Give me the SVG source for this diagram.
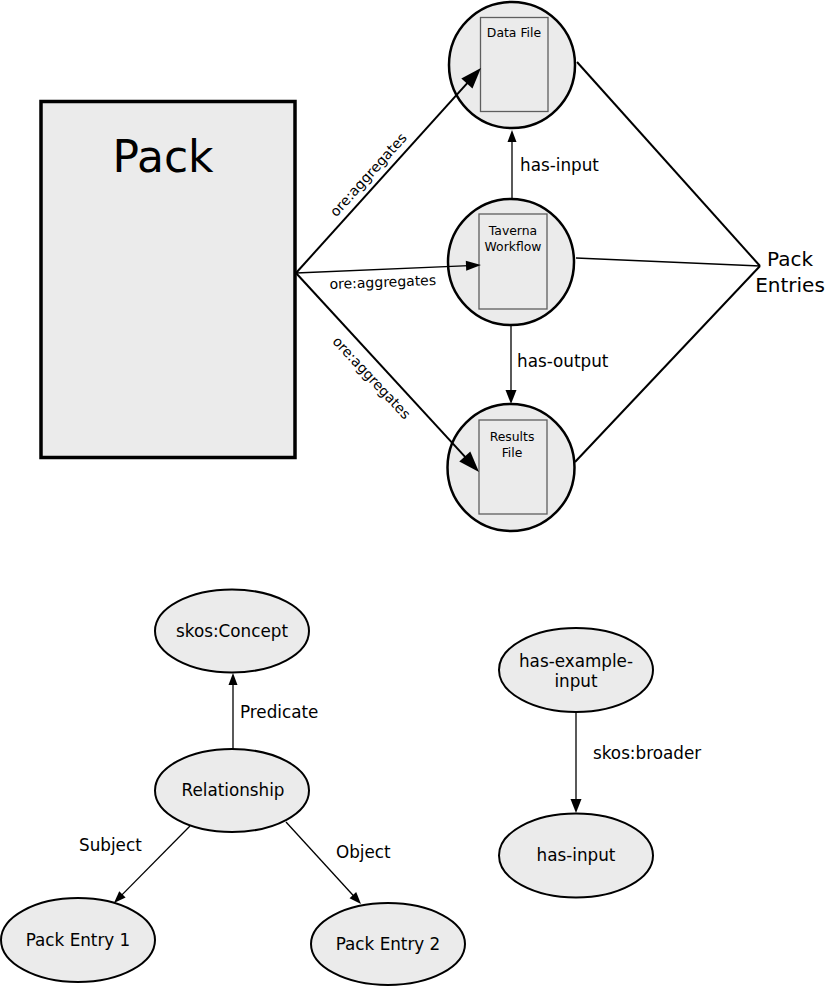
<svg xmlns="http://www.w3.org/2000/svg" width="826" height="987" viewBox="0 0 826 987">
<style>
text{font-family:"DejaVu Sans","Liberation Sans",sans-serif;fill:#000}
.pack{fill:#ebebeb;stroke:#000;stroke-width:3.5}
.circ{fill:#ebebeb;stroke:#000;stroke-width:2.5}
.doc{fill:#ebebeb;stroke:#5e5e5e;stroke-width:1.3}
.ell{fill:#ebebeb;stroke:#000;stroke-width:2}
.ln{fill:none;stroke:#000;stroke-width:2}
.thin{fill:none;stroke:#000;stroke-width:1.3}
.lbl{font-size:16.8px}
.small{font-size:12.4px;text-anchor:middle}
.agg{font-size:14px;text-anchor:middle}
.c{text-anchor:middle}
</style>
<defs>
<marker id="big" markerUnits="userSpaceOnUse" orient="auto" refX="0" refY="0" markerWidth="30" markerHeight="20" overflow="visible">
<path d="M8,0 L-13,-7.5 L-13,7.5 Z" fill="#000"/>
</marker>
<marker id="mid" markerUnits="userSpaceOnUse" orient="auto" refX="0" refY="0" markerWidth="20" markerHeight="14" overflow="visible">
<path d="M6,0 L-9,-5 L-9,5 Z" fill="#000"/>
</marker>
<marker id="sm" markerUnits="userSpaceOnUse" orient="auto" refX="0" refY="0" markerWidth="16" markerHeight="12" overflow="visible">
<path d="M5,0 L-7,-4.5 L-7,4.5 Z" fill="#000"/>
</marker>
<marker id="md2" markerUnits="userSpaceOnUse" orient="auto" refX="0" refY="0" markerWidth="20" markerHeight="14" overflow="visible">
<path d="M6,0 L-8,-5.5 L-8,5.5 Z" fill="#000"/>
</marker>
</defs>

<g id="pack">
<rect class="pack" x="41" y="101.5" width="254" height="356"/>
<text x="163" y="172" font-size="44" text-anchor="middle">Pack</text>
</g>

<g id="data-file">
<circle class="circ" cx="512" cy="65" r="63"/>
<rect class="doc" x="480.5" y="17.5" width="67.5" height="94"/>
<text class="small" x="514" y="37">Data File</text>
</g>

<g id="taverna-workflow">
<circle class="circ" cx="511" cy="262" r="63"/>
<rect class="doc" x="479" y="214" width="68" height="95"/>
<text class="small" x="513" y="235">Taverna</text>
<text class="small" x="513" y="251">Workflow</text>
</g>

<g id="results-file">
<circle class="circ" cx="511" cy="467.5" r="63.5"/>
<rect class="doc" x="479" y="420" width="68" height="94"/>
<text class="small" x="512" y="441">Results</text>
<text class="small" x="512" y="457">File</text>
</g>

<g id="pack-entries">
<text x="790" y="266" font-size="20" text-anchor="middle">Pack</text>
<text x="790" y="292" font-size="20" text-anchor="middle">Entries</text>
</g>

<g id="skos-concept">
<ellipse class="ell" cx="232" cy="631" rx="77" ry="41.5"/>
<text class="lbl c" x="232" y="637">skos:Concept</text>
</g>
<g id="relationship">
<ellipse class="ell" cx="232" cy="790.5" rx="77" ry="41.5"/>
<text class="lbl c" x="233" y="796">Relationship</text>
</g>
<g id="pack-entry-1">
<ellipse class="ell" cx="78" cy="940" rx="77" ry="42"/>
<text class="lbl c" x="78" y="946">Pack Entry 1</text>
</g>
<g id="pack-entry-2">
<ellipse class="ell" cx="388" cy="944" rx="77" ry="41"/>
<text class="lbl c" x="388" y="950">Pack Entry 2</text>
</g>
<g id="has-example-input">
<ellipse class="ell" cx="576" cy="670" rx="77" ry="42"/>
<text class="lbl c" x="576" y="667">has-example-</text>
<text class="lbl c" x="576" y="687">input</text>
</g>
<g id="has-input-node">
<ellipse class="ell" cx="576" cy="855.5" rx="77" ry="42"/>
<text class="lbl c" x="576" y="861">has-input</text>
</g>

<g id="connectors">
<line class="ln" x1="296" y1="273" x2="475.6" y2="73.9" marker-end="url(#big)"/>
<line class="thin" x1="296" y1="273" x2="475" y2="265.3" marker-end="url(#mid)"/>
<line class="ln" x1="296" y1="273" x2="473.6" y2="466.1" marker-end="url(#big)"/>
<line class="thin" x1="512" y1="199" x2="512" y2="135" marker-end="url(#sm)"/>
<line class="thin" x1="511" y1="326" x2="511" y2="398" marker-end="url(#md2)"/>
<line class="ln" x1="577" y1="62" x2="760" y2="266"/>
<line class="thin" x1="576" y1="258" x2="760" y2="266"/>
<line class="ln" x1="575" y1="462" x2="760" y2="266"/>
<line class="thin" x1="233" y1="749" x2="233" y2="678" marker-end="url(#sm)"/>
<line class="thin" x1="190" y1="826" x2="117.5" y2="899.4" marker-end="url(#sm)"/>
<line class="thin" x1="286" y1="822" x2="357.6" y2="900.3" marker-end="url(#sm)"/>
<line class="thin" x1="576" y1="712" x2="576" y2="807" marker-end="url(#md2)"/>
<text class="agg" x="372" y="178" transform="rotate(-48 372 178)">ore:aggregates</text>
<text class="agg" x="383" y="287" transform="rotate(-2.2 383 287)">ore:aggregates</text>
<text class="agg" x="368" y="381" transform="rotate(47 368 381)">ore:aggregates</text>
<text class="lbl" x="520" y="171">has-input</text>
<text class="lbl" x="517" y="367">has-output</text>
<text class="lbl" x="240" y="718">Predicate</text>
<text class="lbl" x="79" y="851">Subject</text>
<text class="lbl" x="336" y="858">Object</text>
<text class="lbl" x="593" y="759">skos:broader</text>
</g>
</svg>
